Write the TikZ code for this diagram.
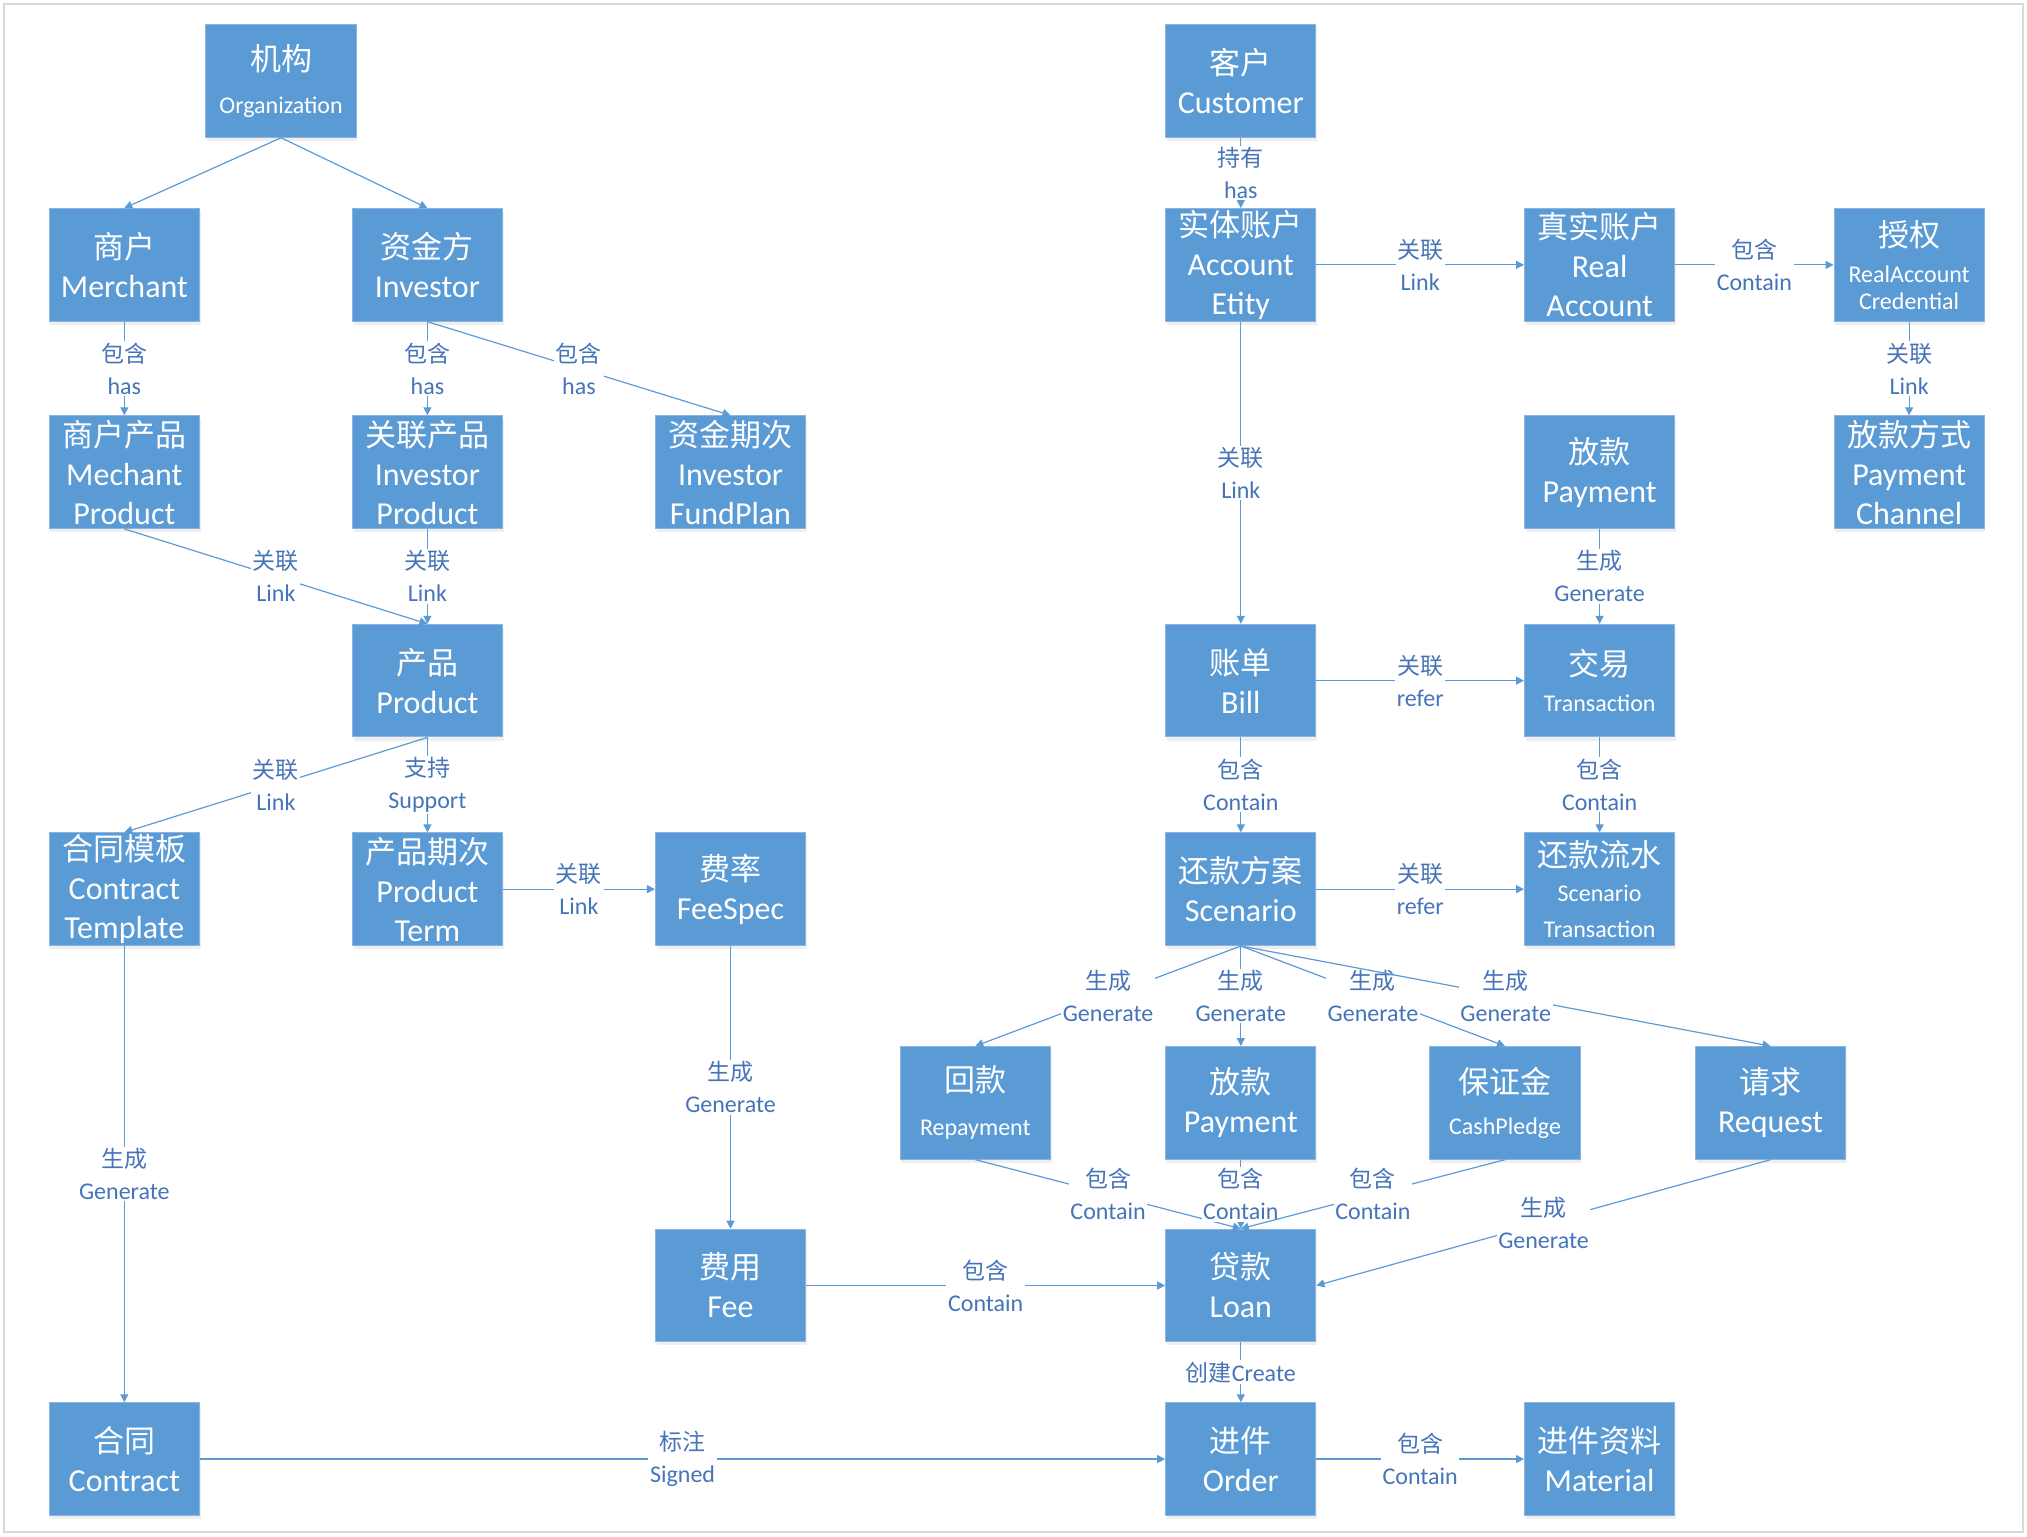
\documentclass[tikz,border=0pt]{standalone}
\usepackage{fontspec}
\setmainfont{Carlito}
\newfontfamily\cjk{Noto Sans CJK SC}
\usetikzlibrary{arrows.meta,shadows}
\definecolor{boxblue}{HTML}{5B9BD5}
\definecolor{boxline}{HTML}{8DB3E2}
\definecolor{lineblue}{HTML}{5B9BD5}
\definecolor{textblue}{HTML}{4674B9}
\newcommand\zh[1]{{\cjk\fontsize{15.5}{19.5}\selectfont #1}}
\newcommand\zhs[1]{{\cjk\fontsize{11.5}{16}\selectfont #1}}
\newcommand\en[1]{{\fontsize{12}{14}\selectfont #1}}

\begin{document}
\begin{tikzpicture}[x=0.6476pt,y=-0.6476pt,
	box/.style={rectangle,fill=boxblue,draw=boxline,line width=0.5pt,
		minimum width=75.1pt,minimum height=56.3pt,inner sep=0pt,
		text=white,align=center,font=\fontsize{16}{19.5}\selectfont,
		drop shadow={shadow xshift=0.6pt,shadow yshift=-1.8pt,fill=black!12}},
	rel/.style={draw=lineblue,line width=0.6pt,-{Triangle[length=4pt,width=4pt]}},
	lbl/.style={fill=white,inner sep=0.8pt,text=textblue,align=center,
		font=\fontsize{12}{16}\selectfont}]
\useasboundingbox (0,0) rectangle (1565,1186);
\draw[black!15,line width=0.8pt] (3,3) rectangle (1562,1183);

% left part
\node[box] (org) at (217,62.5) {\zh{机构}\\[2pt]\en{Organization}};
\node[box] (merchant) at (96,204.5) {\zh{商户}\\Merchant};
\node[box] (investor) at (330,204.5) {\zh{资金方}\\Investor};
\node[box] (mproduct) at (96,364.5) {\zh{商户产品}\\Mechant\\Product};
\node[box] (iproduct) at (330,364.5) {\zh{关联产品}\\Investor\\Product};
\node[box] (fundplan) at (564,364.5) {\zh{资金期次}\\Investor\\FundPlan};
\node[box] (product) at (330,525.5) {\zh{产品}\\Product};
\node[box] (ctemplate) at (96,686.5) {\zh{合同模板}\\Contract\\Template};
\node[box] (pterm) at (330,686.5) {\zh{产品期次}\\Product\\Term};
\node[box] (feespec) at (564,686.5) {\zh{费率}\\FeeSpec};
\node[box] (fee) at (564,992.5) {\zh{费用}\\Fee};
\node[box] (contract) at (96,1126.5) {\zh{合同}\\Contract};

% right part
\node[box] (customer) at (958,62.5) {\zh{客户}\\Customer};
\node[box] (account) at (958,204.5) {\zh{实体账户}\\Account\\Etity};
\node[box] (realacc) at (1235,204.5) {\zh{真实账户}\\Real\\Account};
\node[box] (cred) at (1474,204.5) {\zh{授权}\\[-1.5pt]\en{RealAccount}\\[-6pt]\en{Credential}};
\node[box] (paychan) at (1474,364.5) {\zh{放款方式}\\Payment\\Channel};
\node[box] (payment) at (1235,364.5) {\zh{放款}\\Payment};
\node[box] (bill) at (958,525.5) {\zh{账单}\\Bill};
\node[box] (trans) at (1235,525.5) {\zh{交易}\\[-1.5pt]\en{Transaction}};
\node[box] (scenario) at (958,686.5) {\zh{还款方案}\\Scenario};
\node[box] (strans) at (1235,686.5) {\zh{还款流水}\\[-2pt]\en{Scenario}\\[-1.5pt]\en{Transaction}};
\node[box] (repay) at (753,851.5) {\zh{回款}\\[2.5pt]\en{Repayment}};
\node[box] (loanpay) at (958,851.5) {\zh{放款}\\Payment};
\node[box] (pledge) at (1162,851.5) {\zh{保证金}\\[1pt]\en{CashPledge}};
\node[box] (request) at (1367,851.5) {\zh{请求}\\Request};
\node[box] (loan) at (958,992.5) {\zh{贷款}\\Loan};
\node[box] (order) at (958,1126.5) {\zh{进件}\\Order};
\node[box] (material) at (1235,1126.5) {\zh{进件资料}\\Material};

\draw[rel] (org.south) -- (merchant.north);
\draw[rel] (org.south) -- (investor.north);
\draw[rel] (merchant) -- node[lbl]{\zhs{包含}\\has} (mproduct);
\draw[rel] (investor) -- node[lbl]{\zhs{包含}\\has} (iproduct);
\draw[rel] (investor.south) -- node[lbl]{\zhs{包含}\\has} (fundplan.north);
\draw[rel] (mproduct.south) -- node[lbl]{\zhs{关联}\\Link} (product.north);
\draw[rel] (iproduct) -- node[lbl]{\zhs{关联}\\Link} (product);
\draw[rel] (product.south) -- node[lbl]{\zhs{关联}\\Link} (ctemplate.north);
\draw[rel] (product) -- node[lbl]{\zhs{支持}\\Support} (pterm);
\draw[rel] (pterm) -- node[lbl]{\zhs{关联}\\Link} (feespec);
\draw[rel] (ctemplate) -- node[lbl]{\zhs{生成}\\Generate} (contract);
\draw[rel] (feespec) -- node[lbl]{\zhs{生成}\\Generate} (fee);
\draw[rel] (fee) -- node[lbl]{\zhs{包含}\\Contain} (loan);
\draw[rel] (contract) -- node[lbl]{\zhs{标注}\\Signed} (order);
\draw[rel] (loan) -- node[lbl]{\zhs{创建}Create} (order);
\draw[rel] (order) -- node[lbl]{\zhs{包含}\\Contain} (material);

\draw[rel] (customer) -- node[lbl]{\zhs{持有}\\has} (account);
\draw[rel] (account) -- node[lbl]{\zhs{关联}\\Link} (realacc);
\draw[rel] (realacc) -- node[lbl]{\zhs{包含}\\Contain} (cred);
\draw[rel] (cred) -- node[lbl]{\zhs{关联}\\Link} (paychan);
\draw[rel] (account) -- node[lbl]{\zhs{关联}\\Link} (bill);
\draw[rel] (payment) -- node[lbl]{\zhs{生成}\\Generate} (trans);
\draw[rel] (bill) -- node[lbl]{\zhs{关联}\\refer} (trans);
\draw[rel] (bill) -- node[lbl]{\zhs{包含}\\Contain} (scenario);
\draw[rel] (trans) -- node[lbl]{\zhs{包含}\\Contain} (strans);
\draw[rel] (scenario) -- node[lbl]{\zhs{关联}\\refer} (strans);
\draw[rel] (scenario.south) -- node[lbl]{\zhs{生成}\\Generate} (repay.north);
\draw[rel] (scenario.south) -- node[lbl]{\zhs{生成}\\Generate} (loanpay.north);
\draw[rel] (scenario.south) -- node[lbl]{\zhs{生成}\\Generate} (pledge.north);
\draw[rel] (scenario.south) -- node[lbl]{\zhs{生成}\\Generate} (request.north);
\draw[rel] (repay.south) -- node[lbl]{\zhs{包含}\\Contain} (loan.north);
\draw[rel] (loanpay) -- node[lbl]{\zhs{包含}\\Contain} (loan);
\draw[rel] (pledge.south) -- node[lbl]{\zhs{包含}\\Contain} (loan.north);
\draw[rel] (request.south) -- node[lbl]{\zhs{生成}\\Generate} (loan.east);
\end{tikzpicture}
\end{document}
